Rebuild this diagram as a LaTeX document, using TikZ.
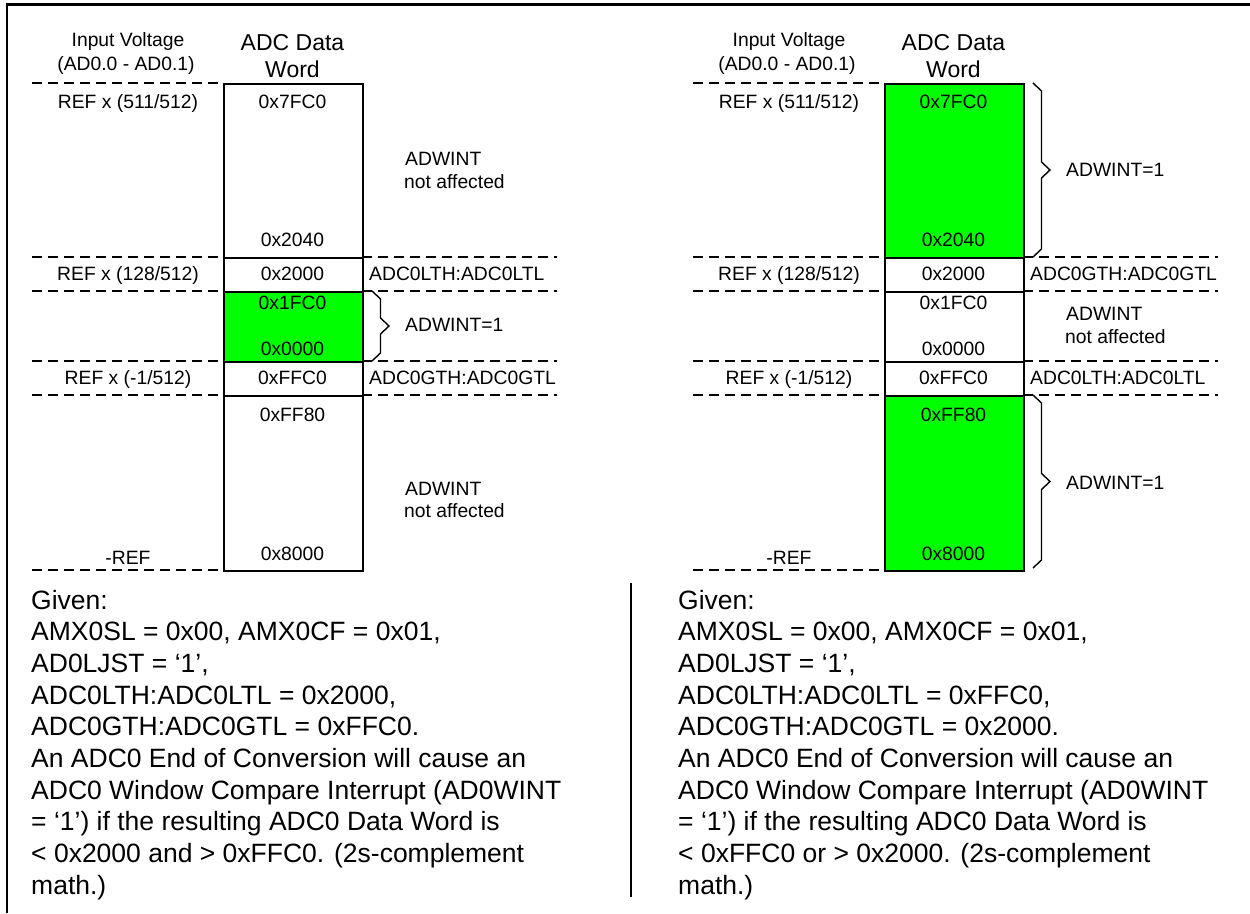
\documentclass[tikz,border=0pt]{standalone}
\usepackage{fontspec}
\setmainfont{Liberation Sans}
\definecolor{wgreen}{RGB}{0,255,0}
\tikzset{
  lbl/.style={inner sep=0pt, anchor=base, font=\fontsize{19.3}{22}\selectfont},
  lbll/.style={lbl, anchor=base west},
  hdr/.style={inner sep=0pt, anchor=base, font=\fontsize{23}{27}\selectfont},
  bodytext/.style={inner sep=0pt, anchor=base west, font=\fontsize{26.5}{31.7}\selectfont},
  guide/.style={dash pattern=on 10pt off 6pt, line width=1.4pt},
  cell/.style={draw, line width=1.8pt, inner sep=0pt, anchor=north west, minimum width=139pt},
  bracestyle/.style={line width=1.4pt, line join=miter},
  frame/.style={line width=2.2pt, line join=miter},
}
\newcommand{\adcpanel}[3]{%
  \node[lbl] (iv1) at (128,46) {Input Voltage};
  \node[lbl] (iv2) at (126,70) {(AD0.0 - AD0.1)};
  \node[hdr] (dw1) at (292.5,50) {ADC Data};
  \node[hdr] (dw2) at (292.5,77.3) {Word};
  \node[cell, fill=#1, minimum height=174pt] (c1) at (223,83) {};
  \node[cell, fill=white, minimum height=34pt] (c2) at (223,257) {};
  \node[cell, fill=#2, minimum height=70pt] (c3) at (223,291) {};
  \node[cell, fill=white, minimum height=34pt] (c4) at (223,361) {};
  \node[cell, fill=#3, minimum height=175pt] (c5) at (223,395) {};
  \foreach \yy in {83,257,291,361,395,570} {\draw[guide] (32,\yy) -- (223,\yy);}
  \foreach \yy in {257,291,361,395} {\draw[guide] (362,\yy) -- (557,\yy);}
  \node[lbl] (v1) at (128,108.3) {REF x (511/512)};
  \node[lbl] (v2) at (128,280) {REF x (128/512)};
  \node[lbl] (v3) at (128,384) {REF x (-1/512)};
  \node[lbl] (v4) at (128,564) {-REF};
  \node[lbl] (d1) at (292.5,108.3) {0x7FC0};
  \node[lbl] (d2) at (292.5,246.7) {0x2040};
  \node[lbl] (d3) at (292.5,280) {0x2000};
  \node[lbl] (d4) at (292.5,309) {0x1FC0};
  \node[lbl] (d5) at (292.5,355.7) {0x0000};
  \node[lbl] (d6) at (292.5,384) {0xFFC0};
  \node[lbl] (d7) at (292.5,421.3) {0xFF80};
  \node[lbl] (d8) at (292.5,560) {0x8000};
}
\newcommand{\adcbrace}[2]{%
  \draw[bracestyle] (372,#1) -- (380.5,{#1+8}) -- (380.5,{(#1+#2)/2-8})
    -- (389,{(#1+#2)/2}) -- (380.5,{(#1+#2)/2+8}) -- (380.5,{#2-8}) -- (372,#2);
}
\begin{document}
\begin{tikzpicture}[x=1pt,y=-1pt]
\useasboundingbox (0,0) rectangle (1250,913);
\draw[frame] (7,913) -- (7,4.5) -- (1250,4.5);
\begin{scope}[name prefix=L-]
  \adcpanel{white}{wgreen}{white}
  \node[lbll] (n1a) at (405,165) {ADWINT};
  \node[lbll] (n1b) at (404,188) {not affected};
  \node[lbll] (th2) at (369,280) {ADC0LTH:ADC0LTL};
  \adcbrace{291}{361}
  \node[lbll] (w3) at (405,331.7) {ADWINT=1};
  \node[lbll] (th4) at (369,384) {ADC0GTH:ADC0GTL};
  \node[lbll] (n5a) at (405,495) {ADWINT};
  \node[lbll] (n5b) at (404,517.7) {not affected};
\end{scope}
\begin{scope}[xshift=661pt, name prefix=R-]
  \adcpanel{wgreen}{white}{wgreen}
  \adcbrace{83}{257}
  \node[lbll] (w1) at (405,176) {ADWINT=1};
  \node[lbll] (th2) at (369,280) {ADC0GTH:ADC0GTL};
  \node[lbll] (n3a) at (405,320.7) {ADWINT};
  \node[lbll] (n3b) at (404,343.3) {not affected};
  \node[lbll] (th4) at (369,384) {ADC0LTH:ADC0LTL};
  \adcbrace{395}{568}
  \node[lbll] (w5) at (405,489) {ADWINT=1};
\end{scope}
\draw[line width=2pt] (631,583) -- (631,897);
\foreach \t [count=\i] in {{Given:},{AMX0SL = 0x00, AMX0CF = 0x01,},{AD0LJST = ‘1’,},{ADC0LTH:ADC0LTL = 0x2000,},{ADC0GTH:ADC0GTL = 0xFFC0.},{An ADC0 End of Conversion will cause an},{ADC0 Window Compare Interrupt (AD0WINT},{= ‘1’) if the resulting ADC0 Data Word is},{< 0x2000 and > 0xFFC0. (2s-complement},{math.)}}
  {\node[bodytext] (lt\i) at (31,{609+(\i-1)*31.67}) {\t};}
\foreach \t [count=\i] in {{Given:},{AMX0SL = 0x00, AMX0CF = 0x01,},{AD0LJST = ‘1’,},{ADC0LTH:ADC0LTL = 0xFFC0,},{ADC0GTH:ADC0GTL = 0x2000.},{An ADC0 End of Conversion will cause an},{ADC0 Window Compare Interrupt (AD0WINT},{= ‘1’) if the resulting ADC0 Data Word is},{< 0xFFC0 or > 0x2000. (2s-complement},{math.)}}
  {\node[bodytext] (rt\i) at (678,{609+(\i-1)*31.67}) {\t};}
\end{tikzpicture}
\end{document}
